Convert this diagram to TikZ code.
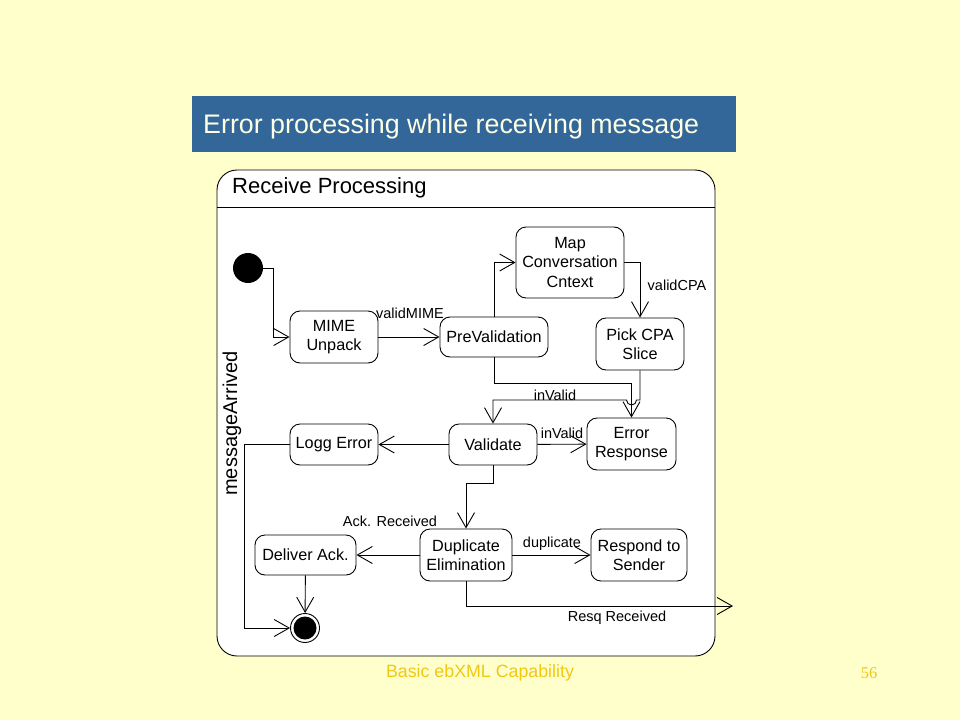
\documentclass[tikz,border=0pt]{standalone}
\usepackage{fontspec}
\setmainfont{Liberation Sans}
\newfontfamily\serifnum{Liberation Serif}
\usetikzlibrary{arrows.meta,calc}
\definecolor{bg}{RGB}{255,255,204}
\definecolor{titlebar}{RGB}{51,102,153}
\definecolor{titletext}{RGB}{255,255,230}
\definecolor{foot}{RGB}{240,200,20}
\tikzset{
  st/.style={draw=black, fill=white, rounded corners=10pt, line width=0.9pt, inner sep=0pt, align=center, font=\fontsize{16.2}{19.5}\selectfont},
  arr/.style={line width=0.9pt, -{Straight Barb[length=15pt,width=17pt,line width=0.9pt]}},
  lbl/.style={inner sep=0pt, font=\fontsize{14.5}{17}\selectfont}
}
\begin{document}
\begin{tikzpicture}[x=1pt,y=-1pt]
\fill[bg] (0,0) rectangle (960,720);
\useasboundingbox (0,0) rectangle (960,720);
% title bar
\fill[titlebar] (192,96) rectangle (736,152);
\node[anchor=west, inner sep=0pt, text=titletext, font=\fontsize{26.8}{30}\selectfont] (title) at (203,126.5) {Error processing while receiving message};
% frame
\draw[line width=0.9pt, fill=white, rounded corners=20pt] (217,170) rectangle (715,656);
\draw[line width=0.9pt] (217,207) -- (715,207);
\node[anchor=west, inner sep=0pt, font=\fontsize{22}{24}\selectfont] (frametitle) at (232,188) {Receive Processing};
\node[rotate=90, inner sep=0pt, font=\fontsize{20}{22}\selectfont] (msgarr) at (232,423.5) {messageArrived};
% states
\node[circle, fill=black, minimum size=30pt, inner sep=0pt] (init) at (248,268) {};
\node[st, minimum width=88pt, minimum height=52pt] (mime) at (334,337) {MIME\\Unpack};
\node[st, minimum width=108pt, minimum height=40pt] (pre) at (494,337) {PreValidation};
\node[st, minimum width=108pt, minimum height=71pt] (map) at (570,262.5) {Map\\Conversation\\Cntext};
\node[st, minimum width=88pt, minimum height=52pt] (pick) at (640,344) {Pick CPA\\Slice};
\node[st, minimum width=89pt, minimum height=52pt] (err) at (631.5,444) {Error\\Response};
\node[st, minimum width=88pt, minimum height=41pt] (val) at (493,444.5) {Validate};
\node[st, minimum width=88pt, minimum height=41pt] (logg) at (334,444.5) {Logg Error};
\node[st, minimum width=92pt, minimum height=52pt] (dup) at (466,555) {Duplicate\\Elimination};
\node[st, minimum width=96pt, minimum height=52pt] (resp) at (639,555) {Respond to\\Sender};
\node[st, minimum width=101pt, minimum height=40pt] (deliver) at (305.5,555) {Deliver Ack.};
\node[circle, draw=black, line width=0.9pt, fill=white, minimum size=29pt, inner sep=0pt] (final) at (305,628) {};
\fill[black] (final.center) circle[radius=11.5pt];
% helper coordinates
\coordinate (c1) at (631.5,383);
\coordinate (c2) at (640,400);
\coordinate (h1) at (636.5,400);
\coordinate (c3) at (493,400);
\coordinate (out) at (733,606);
% connectors
\draw[arr] (init.east) -- ++(10,0) |- (mime.west);
\draw[arr] (mime) -- (pre);
\draw[arr] (pre.north) |- (map.west);
\draw[arr] (map.east) -| (pick.north);
\draw[arr] (pre.south) |- (c1) -- (err.north);
\draw[arr] (pick.south) -- (c2) -- (h1) arc[start angle=0, end angle=-180, radius=5pt] -- (c3) -- (val.north);
\draw[arr] (val) -- (err);
\draw[arr] (val) -- (logg);
\draw[arr] (val.south) -- ++(0,18) -| (dup.north);
\draw[arr] (dup) -- (deliver);
\draw[arr] (dup) -- (resp);
\draw[arr] (dup.south) |- (out);
\draw[arr] (deliver) -- (final);
\draw[arr] (logg.west) -- ++(-45,0) |- (final.west);
% labels
\node[lbl] (l1) at (410,313) {validMIME};
\node[lbl] (l2) at (677,285) {validCPA};
\node[lbl] (l3) at (555,395) {inValid};
\node[lbl] (l4) at (562,433) {inValid};
\node[lbl] (l5) at (552,544) {duplicate};
\node[lbl] (l6) at (390,521) {Ack. Received};
\node[lbl] (l7) at (617,618) {Resq Received};
% footer
\node[inner sep=0pt, text=foot, font=\fontsize{17.8}{20}\selectfont] (footl) at (480,673) {Basic ebXML Capability};
\node[inner sep=0pt, text=foot, font=\serifnum\fontsize{16.5}{20}\selectfont] (footr) at (869,673) {56};
\end{tikzpicture}
\end{document}
